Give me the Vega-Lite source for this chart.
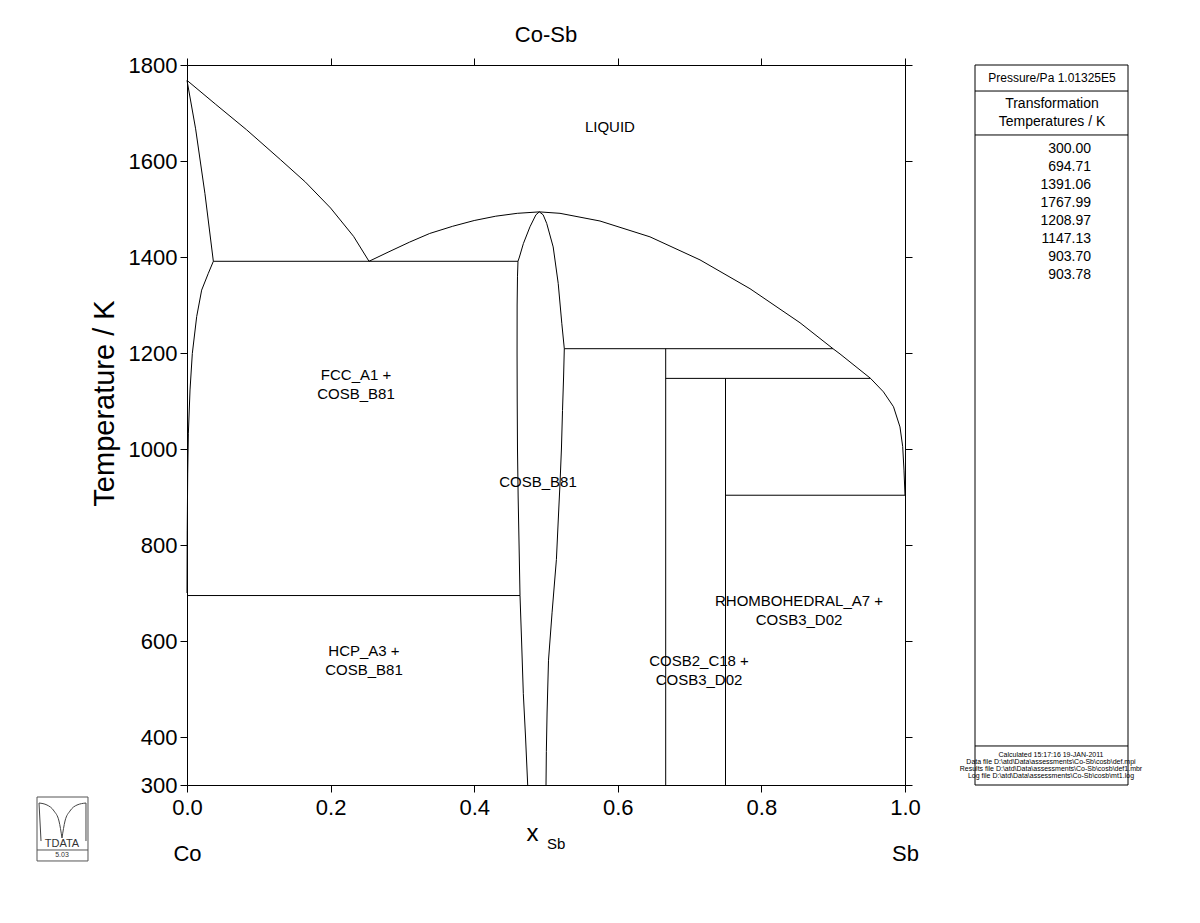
{
  "$schema": "https://vega.github.io/schema/vega-lite/v6.json",
  "width": 718,
  "height": 720,
  "autosize": {"type": "none"},
  "padding": {"left": 187, "top": 65, "right": 295, "bottom": 138},
  "background": "white",
  "title": {"text": "Co-Sb", "fontSize": 22, "font": "Liberation Sans", "fontWeight": "normal", "color": "black", "offset": 7, "anchor": "middle"},
  "config": {"view": {"stroke": null}, "font": "Liberation Sans"},
  "datasets": {
    "curves": [
      {"s": "liqA", "i": 0, "x": 0, "T": 1767.99},
      {"s": "liqA", "i": 1, "x": 0.04, "T": 1718},
      {"s": "liqA", "i": 2, "x": 0.083, "T": 1665},
      {"s": "liqA", "i": 3, "x": 0.13, "T": 1603},
      {"s": "liqA", "i": 4, "x": 0.165, "T": 1556},
      {"s": "liqA", "i": 5, "x": 0.2, "T": 1502},
      {"s": "liqA", "i": 6, "x": 0.232, "T": 1443},
      {"s": "liqA", "i": 7, "x": 0.2535, "T": 1391.06},
      {"s": "solA", "i": 0, "x": 0, "T": 1767.99},
      {"s": "solA", "i": 1, "x": 0.012, "T": 1667},
      {"s": "solA", "i": 2, "x": 0.025, "T": 1532},
      {"s": "solA", "i": 3, "x": 0.0367, "T": 1391.06},
      {"s": "solvA", "i": 0, "x": 0.0367, "T": 1391.06},
      {"s": "solvA", "i": 1, "x": 0.0297, "T": 1366},
      {"s": "solvA", "i": 2, "x": 0.0204, "T": 1331},
      {"s": "solvA", "i": 3, "x": 0.0135, "T": 1276},
      {"s": "solvA", "i": 4, "x": 0.0074, "T": 1199},
      {"s": "solvA", "i": 5, "x": 0.0042, "T": 1123},
      {"s": "solvA", "i": 6, "x": 0.0019, "T": 1033},
      {"s": "solvA", "i": 7, "x": 0.001, "T": 949},
      {"s": "solvA", "i": 8, "x": 0.0003, "T": 830},
      {"s": "solvA", "i": 9, "x": 0, "T": 700},
      {"s": "eut", "i": 0, "x": 0.0367, "T": 1391.06},
      {"s": "eut", "i": 1, "x": 0.461, "T": 1391.06},
      {"s": "eutd", "i": 0, "x": 0, "T": 694.71},
      {"s": "eutd", "i": 1, "x": 0.4638, "T": 694.71},
      {"s": "cosbL", "i": 0, "x": 0.4907, "T": 1494},
      {"s": "cosbL", "i": 1, "x": 0.486, "T": 1488},
      {"s": "cosbL", "i": 2, "x": 0.4777, "T": 1463},
      {"s": "cosbL", "i": 3, "x": 0.4685, "T": 1428},
      {"s": "cosbL", "i": 4, "x": 0.463, "T": 1400},
      {"s": "cosbL", "i": 5, "x": 0.461, "T": 1391.06},
      {"s": "cosbL", "i": 6, "x": 0.4603, "T": 1360},
      {"s": "cosbL", "i": 7, "x": 0.4598, "T": 1300},
      {"s": "cosbL", "i": 8, "x": 0.4597, "T": 1200},
      {"s": "cosbL", "i": 9, "x": 0.4599, "T": 1100},
      {"s": "cosbL", "i": 10, "x": 0.4603, "T": 1000},
      {"s": "cosbL", "i": 11, "x": 0.4612, "T": 900},
      {"s": "cosbL", "i": 12, "x": 0.4625, "T": 800},
      {"s": "cosbL", "i": 13, "x": 0.4638, "T": 694.71},
      {"s": "cosbL", "i": 14, "x": 0.466, "T": 600},
      {"s": "cosbL", "i": 15, "x": 0.4684, "T": 491},
      {"s": "cosbL", "i": 16, "x": 0.4715, "T": 400},
      {"s": "cosbL", "i": 17, "x": 0.4745, "T": 300},
      {"s": "cosbR", "i": 0, "x": 0.4907, "T": 1494},
      {"s": "cosbR", "i": 1, "x": 0.496, "T": 1488},
      {"s": "cosbR", "i": 2, "x": 0.501, "T": 1470},
      {"s": "cosbR", "i": 3, "x": 0.51, "T": 1421},
      {"s": "cosbR", "i": 4, "x": 0.517, "T": 1345},
      {"s": "cosbR", "i": 5, "x": 0.522, "T": 1262},
      {"s": "cosbR", "i": 6, "x": 0.5255, "T": 1208.97},
      {"s": "cosbR", "i": 7, "x": 0.5245, "T": 1150},
      {"s": "cosbR", "i": 8, "x": 0.523, "T": 1080},
      {"s": "cosbR", "i": 9, "x": 0.5215, "T": 1000},
      {"s": "cosbR", "i": 10, "x": 0.5195, "T": 928},
      {"s": "cosbR", "i": 11, "x": 0.517, "T": 850},
      {"s": "cosbR", "i": 12, "x": 0.5145, "T": 770},
      {"s": "cosbR", "i": 13, "x": 0.5085, "T": 660},
      {"s": "cosbR", "i": 14, "x": 0.5035, "T": 560},
      {"s": "cosbR", "i": 15, "x": 0.5015, "T": 450},
      {"s": "cosbR", "i": 16, "x": 0.5005, "T": 370},
      {"s": "cosbR", "i": 17, "x": 0.5, "T": 300},
      {"s": "liqB", "i": 0, "x": 0.2535, "T": 1391.06},
      {"s": "liqB", "i": 1, "x": 0.28, "T": 1410},
      {"s": "liqB", "i": 2, "x": 0.31, "T": 1431},
      {"s": "liqB", "i": 3, "x": 0.338, "T": 1449},
      {"s": "liqB", "i": 4, "x": 0.37, "T": 1464},
      {"s": "liqB", "i": 5, "x": 0.4, "T": 1476},
      {"s": "liqB", "i": 6, "x": 0.43, "T": 1485},
      {"s": "liqB", "i": 7, "x": 0.46, "T": 1491},
      {"s": "liqB", "i": 8, "x": 0.4907, "T": 1494},
      {"s": "liqC", "i": 0, "x": 0.4907, "T": 1494},
      {"s": "liqC", "i": 1, "x": 0.5195, "T": 1491},
      {"s": "liqC", "i": 2, "x": 0.5752, "T": 1475},
      {"s": "liqC", "i": 3, "x": 0.6448, "T": 1442},
      {"s": "liqC", "i": 4, "x": 0.7145, "T": 1394},
      {"s": "liqC", "i": 5, "x": 0.7841, "T": 1334},
      {"s": "liqC", "i": 6, "x": 0.8538, "T": 1263},
      {"s": "liqC", "i": 7, "x": 0.8997, "T": 1208.97},
      {"s": "liqC", "i": 8, "x": 0.9095, "T": 1198},
      {"s": "liqC", "i": 9, "x": 0.952, "T": 1147.13},
      {"s": "liqC", "i": 10, "x": 0.97, "T": 1119},
      {"s": "liqC", "i": 11, "x": 0.984, "T": 1088},
      {"s": "liqC", "i": 12, "x": 0.993, "T": 1046},
      {"s": "liqC", "i": 13, "x": 0.9968, "T": 1005},
      {"s": "liqC", "i": 14, "x": 0.9986, "T": 956},
      {"s": "liqC", "i": 15, "x": 1.0, "T": 903.7},
      {"s": "h1209", "i": 0, "x": 0.5255, "T": 1208.97},
      {"s": "h1209", "i": 1, "x": 0.8997, "T": 1208.97},
      {"s": "h1147", "i": 0, "x": 0.6667, "T": 1147.13},
      {"s": "h1147", "i": 1, "x": 0.952, "T": 1147.13},
      {"s": "h904", "i": 0, "x": 0.75, "T": 903.7},
      {"s": "h904", "i": 1, "x": 1.0, "T": 903.7},
      {"s": "v1", "i": 0, "x": 0.6667, "T": 1208.97},
      {"s": "v1", "i": 1, "x": 0.6667, "T": 300},
      {"s": "v2", "i": 0, "x": 0.75, "T": 1147.13},
      {"s": "v2", "i": 1, "x": 0.75, "T": 300}
    ],
    "labels": [
      {"x": 0.589, "T": 1671, "txt": "LIQUID"},
      {"x": 0.2354, "T": 1154, "txt": "FCC_A1 +\nCOSB_B81"},
      {"x": 0.4889, "T": 931, "txt": "COSB_B81"},
      {"x": 0.2465, "T": 580, "txt": "HCP_A3 +\nCOSB_B81"},
      {"x": 0.7131, "T": 559, "txt": "COSB2_C18 +\nCOSB3_D02"},
      {"x": 0.8524, "T": 684, "txt": "RHOMBOHEDRAL_A7 +\nCOSB3_D02"}
    ],
    "sub": [{"x": 0.514, "T": 166.7, "txt": "Sb"}],
    "panelBox": [{"x": 1.0975, "x2": 1.3106, "T": 300, "T2": 1800}],
    "panelRules": [
      {"x": 1.0975, "x2": 1.3106, "T": 1745.8},
      {"x": 1.0975, "x2": 1.3106, "T": 1654.2},
      {"x": 1.0975, "x2": 1.3106, "T": 381.3}
    ],
    "panelHead": [
      {"x": 1.2047, "T": 1773, "txt": "Pressure/Pa  1.01325E5"}
    ],
    "panelHead2": [
      {"x": 1.2047, "T": 1719, "txt": "Transformation"},
      {"x": 1.2047, "T": 1681, "txt": "Temperatures / K"}
    ],
    "panelVals": [
      {"x": 1.2591, "T": 1624.4, "txt": "300.00"},
      {"x": 1.2591, "T": 1586.9, "txt": "694.71"},
      {"x": 1.2591, "T": 1549.4, "txt": "1391.06"},
      {"x": 1.2591, "T": 1511.9, "txt": "1767.99"},
      {"x": 1.2591, "T": 1474.4, "txt": "1208.97"},
      {"x": 1.2591, "T": 1436.9, "txt": "1147.13"},
      {"x": 1.2591, "T": 1399.4, "txt": "903.70"},
      {"x": 1.2591, "T": 1361.9, "txt": "903.78"}
    ],
    "panelFoot": [
      {"x": 1.2033, "T": 362.5, "txt": "Calculated  15:17:16  19-JAN-2011"},
      {"x": 1.2033, "T": 348, "txt": "Data file  D:\\atd\\Data\\assessments\\Co-Sb\\cosb\\def.mpi"},
      {"x": 1.2033, "T": 333.5, "txt": "Results file  D:\\atd\\Data\\assessments\\Co-Sb\\cosb\\def1.mbr"},
      {"x": 1.2033, "T": 319, "txt": "Log file  D:\\atd\\Data\\assessments\\Co-Sb\\cosb\\mt1.log"}
    ],
    "logoBox": [{"x": -0.2089, "x2": -0.1379, "T": 275, "T2": 141.7}],
    "logoRule": [{"x": -0.2089, "x2": -0.1379, "T": 164.6}],
    "logoArc": [
      {"s": "L", "i": 0, "x": -0.2061, "T": 262.5},
      {"s": "L", "i": 1, "x": -0.195, "T": 258.3},
      {"s": "L", "i": 2, "x": -0.1852, "T": 245.8},
      {"s": "L", "i": 3, "x": -0.1783, "T": 225},
      {"s": "L", "i": 4, "x": -0.1741, "T": 189.6},
      {"s": "R", "i": 0, "x": -0.1741, "T": 189.6},
      {"s": "R", "i": 1, "x": -0.1699, "T": 225},
      {"s": "R", "i": 2, "x": -0.163, "T": 245.8},
      {"s": "R", "i": 3, "x": -0.1532, "T": 258.3},
      {"s": "R", "i": 4, "x": -0.1407, "T": 262.5},
      {"s": "LV", "i": 0, "x": -0.2061, "T": 262.5},
      {"s": "LV", "i": 1, "x": -0.2033, "T": 183.3},
      {"s": "RV", "i": 0, "x": -0.1407, "T": 262.5},
      {"s": "RV", "i": 1, "x": -0.1407, "T": 183.3}
    ],
    "logoText": [{"x": -0.1741, "T": 170.8, "txt": "TDATA"}],
    "logoVer": [{"x": -0.1741, "T": 154.2, "txt": "5.03"}],
    "axisAnchor": [{"x": 0, "T": 300}]
  },
  "layer": [
    {
      "data": {"name": "curves"},
      "mark": {"type": "line", "color": "black", "strokeWidth": 1},
      "encoding": {
        "x": {"field": "x", "type": "quantitative",
          "scale": {"domain": [0, 1], "nice": false, "zero": false},
          "axis": {"orient": "bottom", "values": [0, 0.2, 0.4, 0.6, 0.8, 1], "format": ".1f",
            "labelExpr": "datum.value == 0 ? ['0.0', 'Co'] : datum.value == 1 ? ['1.0', 'Sb'] : datum.label",
            "labelLineHeight": 46, "labelFontSize": 22, "labelColor": "black", "labelPadding": 5,
            "labelFlush": false, "labelOverlap": false, "tickSize": 7, "tickColor": "black",
            "domainColor": "black", "grid": false,
            "title": "x", "titleFontSize": 24, "titleFontWeight": "normal", "titleColor": "black",
            "titleX": 345, "titleY": 55, "titleBaseline": "alphabetic", "titleAlign": "center"}},
        "y": {"field": "T", "type": "quantitative",
          "scale": {"domain": [300, 1800], "nice": false, "zero": false},
          "axis": {"orient": "left", "values": [300, 400, 600, 800, 1000, 1200, 1400, 1600, 1800], "format": "d",
            "labelFontSize": 22, "labelColor": "black", "labelPadding": 3, "labelFlush": false, "labelOverlap": false,
            "tickSize": 7, "tickColor": "black", "domainColor": "black", "grid": false,
            "title": "Temperature / K", "titleFontSize": 29, "titleFontWeight": "normal", "titleColor": "black",
            "titleX": -74, "titleY": 338, "titleAngle": 270, "titleBaseline": "alphabetic", "titleAlign": "center"}},
        "detail": {"field": "s"},
        "order": {"field": "i"}
      }
    },
    {
      "data": {"name": "labels"},
      "mark": {"type": "text", "fontSize": 15, "color": "black", "lineBreak": "\n", "lineHeight": 19, "align": "center", "baseline": "middle"},
      "encoding": {
        "x": {"field": "x", "type": "quantitative", "scale": {"domain": [0, 1]}, "axis": null},
        "y": {"field": "T", "type": "quantitative", "scale": {"domain": [300, 1800]}, "axis": null},
        "text": {"field": "txt"}
      }
    },
    {
      "data": {"name": "sub"},
      "mark": {"type": "text", "fontSize": 15, "color": "black", "align": "center", "baseline": "alphabetic", "clip": false},
      "encoding": {
        "x": {"field": "x", "type": "quantitative", "scale": {"domain": [0, 1]}, "axis": null},
        "y": {"field": "T", "type": "quantitative", "scale": {"domain": [300, 1800]}, "axis": null},
        "text": {"field": "txt"}
      }
    },
    {
      "data": {"name": "panelBox"},
      "mark": {"type": "rect", "fill": null, "fillOpacity": 0, "stroke": "black", "strokeWidth": 1, "clip": false},
      "encoding": {
        "x": {"field": "x", "type": "quantitative", "scale": {"domain": [0, 1]}, "axis": null},
        "x2": {"field": "x2"},
        "y": {"field": "T", "type": "quantitative", "scale": {"domain": [300, 1800]}, "axis": null},
        "y2": {"field": "T2"}
      }
    },
    {
      "data": {"name": "panelRules"},
      "mark": {"type": "rule", "color": "black", "strokeWidth": 1, "clip": false},
      "encoding": {
        "x": {"field": "x", "type": "quantitative", "scale": {"domain": [0, 1]}, "axis": null},
        "x2": {"field": "x2"},
        "y": {"field": "T", "type": "quantitative", "scale": {"domain": [300, 1800]}, "axis": null}
      }
    },
    {
      "data": {"name": "panelHead"},
      "mark": {"type": "text", "fontSize": 12, "color": "black", "align": "center", "baseline": "middle", "clip": false},
      "encoding": {
        "x": {"field": "x", "type": "quantitative", "scale": {"domain": [0, 1]}, "axis": null},
        "y": {"field": "T", "type": "quantitative", "scale": {"domain": [300, 1800]}, "axis": null},
        "text": {"field": "txt"}
      }
    },
    {
      "data": {"name": "panelHead2"},
      "mark": {"type": "text", "fontSize": 14, "color": "black", "align": "center", "baseline": "middle", "clip": false},
      "encoding": {
        "x": {"field": "x", "type": "quantitative", "scale": {"domain": [0, 1]}, "axis": null},
        "y": {"field": "T", "type": "quantitative", "scale": {"domain": [300, 1800]}, "axis": null},
        "text": {"field": "txt"}
      }
    },
    {
      "data": {"name": "panelVals"},
      "mark": {"type": "text", "fontSize": 14, "color": "black", "align": "right", "baseline": "middle", "clip": false},
      "encoding": {
        "x": {"field": "x", "type": "quantitative", "scale": {"domain": [0, 1]}, "axis": null},
        "y": {"field": "T", "type": "quantitative", "scale": {"domain": [300, 1800]}, "axis": null},
        "text": {"field": "txt"}
      }
    },
    {
      "data": {"name": "panelFoot"},
      "mark": {"type": "text", "fontSize": 7, "color": "black", "align": "center", "baseline": "middle", "clip": false},
      "encoding": {
        "x": {"field": "x", "type": "quantitative", "scale": {"domain": [0, 1]}, "axis": null},
        "y": {"field": "T", "type": "quantitative", "scale": {"domain": [300, 1800]}, "axis": null},
        "text": {"field": "txt"}
      }
    },
    {
      "data": {"name": "logoBox"},
      "mark": {"type": "rect", "fill": null, "fillOpacity": 0, "stroke": "#555555", "strokeWidth": 1, "clip": false},
      "encoding": {
        "x": {"field": "x", "type": "quantitative", "scale": {"domain": [0, 1]}, "axis": null},
        "x2": {"field": "x2"},
        "y": {"field": "T", "type": "quantitative", "scale": {"domain": [300, 1800]}, "axis": null},
        "y2": {"field": "T2"}
      }
    },
    {
      "data": {"name": "logoRule"},
      "mark": {"type": "rule", "color": "#555555", "strokeWidth": 1, "clip": false},
      "encoding": {
        "x": {"field": "x", "type": "quantitative", "scale": {"domain": [0, 1]}, "axis": null},
        "x2": {"field": "x2"},
        "y": {"field": "T", "type": "quantitative", "scale": {"domain": [300, 1800]}, "axis": null}
      }
    },
    {
      "data": {"name": "logoArc"},
      "mark": {"type": "line", "color": "#444444", "strokeWidth": 1, "clip": false, "interpolate": "monotone"},
      "encoding": {
        "x": {"field": "x", "type": "quantitative", "scale": {"domain": [0, 1]}, "axis": null},
        "y": {"field": "T", "type": "quantitative", "scale": {"domain": [300, 1800]}, "axis": null},
        "detail": {"field": "s"},
        "order": {"field": "i"}
      }
    },
    {
      "data": {"name": "logoText"},
      "mark": {"type": "text", "fontSize": 11, "color": "#333333", "align": "center", "baseline": "alphabetic", "clip": false},
      "encoding": {
        "x": {"field": "x", "type": "quantitative", "scale": {"domain": [0, 1]}, "axis": null},
        "y": {"field": "T", "type": "quantitative", "scale": {"domain": [300, 1800]}, "axis": null},
        "text": {"field": "txt"}
      }
    },
    {
      "data": {"name": "logoVer"},
      "mark": {"type": "text", "fontSize": 7, "color": "#333333", "align": "center", "baseline": "middle", "clip": false},
      "encoding": {
        "x": {"field": "x", "type": "quantitative", "scale": {"domain": [0, 1]}, "axis": null},
        "y": {"field": "T", "type": "quantitative", "scale": {"domain": [300, 1800]}, "axis": null},
        "text": {"field": "txt"}
      }
    },
    {
      "data": {"name": "axisAnchor"},
      "mark": {"type": "point", "opacity": 0},
      "encoding": {
        "x": {"field": "x", "type": "quantitative", "scale": {"domain": [0, 1]},
          "axis": {"orient": "top", "values": [0, 0.2, 0.4, 0.6, 0.8, 1], "labels": false, "tickSize": 7, "tickColor": "black", "domainColor": "black", "grid": false, "title": null}},
        "y": {"field": "T", "type": "quantitative", "scale": {"domain": [300, 1800]},
          "axis": {"orient": "right", "values": [300, 400, 600, 800, 1000, 1200, 1400, 1600, 1800], "labels": false, "tickSize": 7, "tickColor": "black", "domainColor": "black", "grid": false, "title": null}}
      }
    }
  ],
  "resolve": {"axis": {"x": "independent", "y": "independent"}}
}
